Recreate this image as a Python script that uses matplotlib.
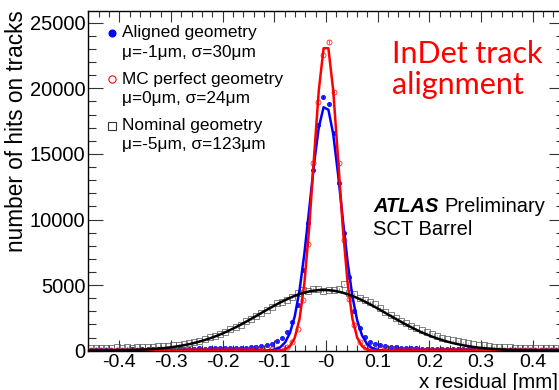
import numpy as np
import matplotlib
matplotlib.use('Agg')
import matplotlib.pyplot as plt
from matplotlib.ticker import FixedLocator, MultipleLocator, FixedFormatter

plt.rcParams['font.family'] = ['Liberation Sans', 'DejaVu Sans']
plt.rcParams['axes.unicode_minus'] = False

# ---------------- data ----------------
bin_width = 0.01
n_bins = 92
x_lo, x_hi = -0.46, 0.46
bin_centers = np.round(x_lo + bin_width * (np.arange(n_bins) + 0.5), 4)

aligned_counts = [
    60, 70, 60, 80, 70, 90, 80, 90, 100, 90,
    110, 100, 120, 110, 130, 120, 140, 130, 150, 140,
    160, 170, 160, 180, 190, 180, 200, 210, 200, 230,
    240, 260, 290, 330, 400, 520, 720, 1000, 1450, 2200,
    3500, 6150, 9700, 13770, 17200, 19360, 18800, 16570, 12780, 9000,
    5600, 3000, 1750, 1050, 700, 520, 410, 340, 280, 250,
    220, 200, 190, 170, 160, 150, 150, 130, 140, 120,
    120, 110, 110, 100, 100, 90, 90, 80, 90, 80,
    70, 80, 70, 60, 70, 60, 60, 50, 60, 50,
    50, 40]

mc_counts = [
    40, 50, 40, 50, 60, 50, 40, 60, 50, 60,
    50, 60, 70, 60, 50, 70, 60, 70, 60, 70,
    80, 70, 60, 80, 70, 80, 90, 80, 70, 90,
    80, 90, 100, 90, 110, 120, 130, 170, 280, 650,
    1650, 3860, 8100, 14300, 18980, 22540, 23550, 19740, 14300, 8440,
    3940, 1950, 700, 300, 160, 120, 100, 90, 100, 80,
    90, 80, 70, 80, 70, 60, 70, 60, 70, 60,
    50, 60, 50, 60, 50, 40, 50, 60, 40, 50,
    40, 50, 40, 50, 40, 40, 50, 40, 30, 40,
    40, 30]

nominal_counts = [
    200, 230, 190, 240, 210, 250, 220, 260, 240, 280,
    260, 300, 290, 330, 360, 350, 420, 470, 520, 600,
    680, 770, 900, 1010, 1150, 1300, 1440, 1620, 1800, 1990,
    2230, 2410, 2680, 2850, 3130, 3330, 3620, 3750, 3900, 4120,
    4370, 4600, 4580, 4700, 4740, 4560, 4600, 4640, 4720, 5050,
    4430, 4350, 4050, 3900, 3720, 3530, 3250, 2950, 2720, 2520,
    2300, 2090, 1900, 1720, 1560, 1420, 1280, 1130, 1000, 900,
    800, 720, 640, 570, 500, 450, 400, 360, 320, 300,
    270, 250, 230, 220, 200, 210, 190, 180, 190, 170,
    180, 160]

# Gaussian fit parameters (amplitude, mean [mm], sigma [mm])
aligned_fit = (18700, -0.001, 0.030)
mc_fit = (23500, 0.000, 0.024)
nominal_fit = (4630, -0.005, 0.123)

legend_labels = ["Aligned geometry", "MC perfect geometry", "Nominal geometry"]
legend_params = ["\u03bc=-1\u03bcm, \u03c3=30\u03bcm",
                 "\u03bc=0\u03bcm, \u03c3=24\u03bcm",
                 "\u03bc=-5\u03bcm, \u03c3=123\u03bcm"]

x_ticks = [-0.4, -0.3, -0.2, -0.1, 0.0, 0.1, 0.2, 0.3, 0.4]
x_tick_labels = ["-0.4", "-0.3", "-0.2", "-0.1", "-0", "0.1", "0.2", "0.3", "0.4"]
y_ticks = [0, 5000, 10000, 15000, 20000, 25000]
y_max = 25900

# ---------------- figure ----------------
W, H = 559, 390
fig = plt.figure(figsize=(W / 100, H / 100), dpi=100)

def P(x, y):
    return (x / W, 1 - y / H)

ax_left, ax_right, ax_top, ax_bottom = 88.2, 563.8, 11.0, 350.7
ax = fig.add_axes([ax_left / W, 1 - ax_bottom / H,
                   (ax_right - ax_left) / W, (ax_bottom - ax_top) / H])
ax.set_xlim(x_lo, x_hi)
ax.set_ylim(0, y_max)

x_fit = np.linspace(x_lo, x_hi, 100)

def gauss(x, p):
    a, m, s = p
    return a * np.exp(-0.5 * ((x - m) / s) ** 2)

series = [
    (aligned_counts, aligned_fit, '#0000ff', 'o', 'full', 3.0),
    (mc_counts, mc_fit, '#ff0000', 'o', 'none', 3.6),
    (nominal_counts, nominal_fit, '#000000', 's', 'none', 4.5),
]
for counts, fitp, col, mk, fill, ms in series:
    c = np.array(counts, dtype=float)
    mfc = col if fill == 'full' else 'none'
    mec = col if col != '#000000' else '#555555'
    ax.errorbar(bin_centers, c, yerr=np.sqrt(c), fmt=mk, ms=ms, mfc=mfc, mec=mec,
                mew=0.6, ecolor=mec, elinewidth=0.6, capsize=0, zorder=2, alpha=0.85)
    ax.plot(x_fit, gauss(x_fit, fitp), color=col, lw=1.8, zorder=3)

# ticks
ax.xaxis.set_major_locator(FixedLocator(x_ticks))
ax.xaxis.set_major_formatter(FixedFormatter(x_tick_labels))
ax.xaxis.set_minor_locator(MultipleLocator(0.02))
ax.yaxis.set_major_locator(FixedLocator(y_ticks))
ax.yaxis.set_minor_locator(MultipleLocator(1000))
ax.tick_params(which='both', direction='in', top=True, right=True, width=0.8, color='#333333')
ax.tick_params(axis='x', which='major', length=8, labelsize=14, pad=2.5)
ax.tick_params(axis='x', which='minor', length=4.3)
ax.tick_params(axis='y', which='major', length=10.8, labelsize=14.5, pad=2)
ax.tick_params(axis='y', which='minor', length=5.8)
for sp in ax.spines.values():
    sp.set_linewidth(1.0)

# axis titles
fig.text(*P(558, 387.5), "x residual [mm]", ha='right', va='baseline', fontsize=14.8)
fig.text(*P(22.7, 10), "number of hits on tracks", rotation=90, rotation_mode='anchor',
         ha='right', va='baseline', fontsize=16.3)

# legend
leg_colors = ['#0000ff', '#ff0000', '#333333']
leg_markers = ['o', 'o', 's']
leg_fill = [True, False, False]
leg_sizes = [5.0, 5.2, 6.0]
marker_y = [32.7, 79.3, 125.7]
label_base = [37.3, 84.0, 130.0]
param_base = [56.8, 102.5, 148.5]
for i in range(3):
    mx, my = P(112, marker_y[i])
    fig.lines.append(plt.Line2D([mx], [my], transform=fig.transFigure, marker=leg_markers[i],
                                ms=leg_sizes[i], mec=leg_colors[i], mew=0.8,
                                mfc=leg_colors[i] if leg_fill[i] else 'none', ls='none'))
    fig.text(*P(122.3, label_base[i]), legend_labels[i], ha='left', va='baseline', fontsize=12.4)
    fig.text(*P(122.3, param_base[i]), legend_params[i], ha='left', va='baseline', fontsize=12.4)

# annotations
fig.text(*P(373, 211.7), "ATLAS", ha='left', va='baseline', fontsize=14.5,
         fontweight='bold', fontstyle='italic')
fig.text(*P(444, 211.7), "Preliminary", ha='left', va='baseline', fontsize=14.5)
fig.text(*P(373, 235), "SCT Barrel", ha='left', va='baseline', fontsize=14.5)

fig.text(*P(392, 63), "InDet track", ha='left', va='baseline', fontsize=22,
         color='#ff0000', family=['Lato', 'DejaVu Sans'])
fig.text(*P(392, 94), "alignment", ha='left', va='baseline', fontsize=22,
         color='#ff0000', family=['Lato', 'DejaVu Sans'])

fig.savefig('out.png', dpi=100)
